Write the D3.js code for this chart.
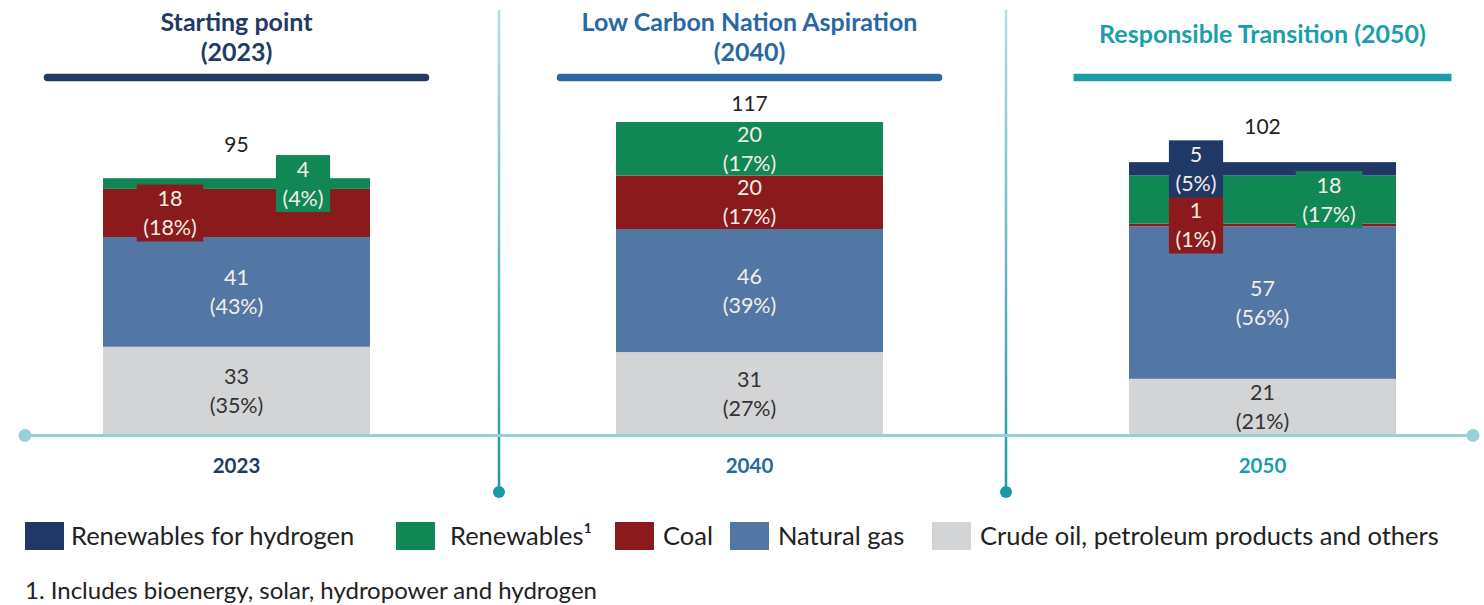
<!DOCTYPE html>
<html>

<head>
    <meta charset="utf-8">
    <title></title>
    <style>
        body {
            margin: 0;
            background: #fff;
        }

        text {
            font-family: Lato, "Open Sans", sans-serif;
        }

        .seg-label {
            font-size: 21.5px;
            text-anchor: middle;
        }

        .total {
            font-size: 21px;
            fill: #222;
            text-anchor: middle;
        }

        .legend text {
            font-size: 25.5px;
            fill: #222;
        }
    </style>
</head>

<body>
    <script src="https://d3js.org/d3.v7.min.js"></script>
    <script>
        // data
        var years = ["2023", "2040", "2050"];
        var titles = [
            ["Starting point", "(2023)"],
            ["Low Carbon Nation Aspiration", "(2040)"],
            ["Responsible Transition (2050)"]
        ];
        var totals = [95, 117, 102];
        // stacked bottom -> top
        var series = ["Crude oil, petroleum products and others", "Natural gas", "Coal", "Renewables\u00b9", "Renewables for hydrogen"];
        var crude = [33, 31, 21];
        var gas = [41, 46, 57];
        var coal = [18, 20, 1];
        var renewables = [4, 20, 18];
        var hydrogen = [0, 0, 5];
        var crudePct = [35, 27, 21];
        var gasPct = [43, 39, 56];
        var coalPct = [18, 17, 1];
        var renewablesPct = [4, 17, 17];
        var hydrogenPct = [0, 0, 5];
        var footnote = "1. Includes bioenergy, solar, hydropower and hydrogen";

        var colors = ["#d3d4d6", "#5277a4", "#8a1a1c", "#118755", "#1f3866"];
        var yearColors = ["#213a66", "#2968a2", "#1b9eac"];

        // label placement for small segments: "L" / "R" = boxed label at left / right of bar
        var boxed = {
            "2023|Coal": "L",
            "2023|Renewables\u00b9": "R",
            "2050|Coal": "L",
            "2050|Renewables\u00b9": "R",
            "2050|Renewables for hydrogen": "L"
        };

        var width = 1484,
            height = 605;

        var svg = d3.select("body").append("svg")
            .attr("width", width)
            .attr("height", height);

        var x = d3.scaleBand()
            .domain(years)
            .range([-20, 1519]);

        var y = d3.scaleLinear()
            .domain([0, 120])
            .range([435, 114]);

        var barW = 267;
        var values = [crude, gas, coal, renewables, hydrogen];
        var pcts = [crudePct, gasPct, coalPct, renewablesPct, hydrogenPct];

        var rows = years.map(function(yr, i) {
            var r = { year: yr };
            series.forEach(function(s, j) { r[s] = values[j][i]; });
            return r;
        });

        var stack = d3.stack().keys(series)(rows);

        // gradient for dividers
        var grad = svg.append("defs").append("linearGradient")
            .attr("id", "divGrad")
            .attr("x1", 0).attr("y1", 0).attr("x2", 0).attr("y2", 1);
        grad.append("stop").attr("offset", "0%").attr("stop-color", "#b4dde4");
        grad.append("stop").attr("offset", "100%").attr("stop-color", "#1a9aa8");

        // vertical dividers
        var divX = [499, 1006];
        divX.forEach(function(dx) {
            svg.append("rect")
                .attr("x", dx - 1.25).attr("y", 10)
                .attr("width", 2.5).attr("height", 482)
                .attr("fill", "url(#divGrad)");
            svg.append("circle")
                .attr("cx", dx).attr("cy", 492).attr("r", 6)
                .attr("fill", "#1a9aa8");
        });

        // titles
        years.forEach(function(yr, i) {
            var cx = x(yr) + x.bandwidth() / 2;
            var lines = titles[i];
            var baselines = lines.length == 2 ? [31, 61] : [43];
            lines.forEach(function(t, k) {
                svg.append("text")
                    .attr("x", cx).attr("y", baselines[k])
                    .attr("text-anchor", "middle")
                    .attr("font-size", 25)
                    .attr("font-weight", "bold")
                    .attr("fill", yearColors[i])
                    .text(t);
            });
            svg.append("line")
                .attr("x1", cx - 189).attr("x2", cx + 189)
                .attr("y1", 77.5).attr("y2", 77.5)
                .attr("stroke", yearColors[i])
                .attr("stroke-width", 7.5)
                .attr("stroke-linecap", i < 2 ? "round" : "butt");

            // x labels
            svg.append("text")
                .attr("x", cx).attr("y", 473)
                .attr("text-anchor", "middle")
                .attr("font-size", 20.5)
                .attr("font-weight", "bold")
                .attr("fill", yearColors[i])
                .text(yr);
        });

        // bars
        var layer = svg.append("g").selectAll("g")
            .data(stack)
            .enter().append("g")
            .attr("fill", function(d, j) { return colors[j]; });

        layer.selectAll("rect")
            .data(function(d) { return d.filter(function(p) { return p[1] > p[0]; }); })
            .enter().append("rect")
            .attr("x", function(d) { return x(d.data.year) + x.bandwidth() / 2 - barW / 2; })
            .attr("y", function(d) { return y(d[1]); })
            .attr("width", barW)
            .attr("height", function(d) { return y(d[0]) - y(d[1]); });

        // baseline axis
        svg.append("line")
            .attr("x1", 25).attr("x2", 1473)
            .attr("y1", 435.5).attr("y2", 435.5)
            .attr("stroke", "#97d0d9")
            .attr("stroke-width", 3);
        [25, 1473].forEach(function(cx) {
            svg.append("circle")
                .attr("cx", cx).attr("cy", 435.5).attr("r", 6.5)
                .attr("fill", "#97d0d9");
        });

        // segment labels
        var labels = svg.append("g");
        stack.forEach(function(s, j) {
            s.forEach(function(p, i) {
                var v = values[j][i];
                if (!(v > 0)) return;
                var yr = years[i];
                var left = x(yr) + x.bandwidth() / 2 - barW / 2;
                var cy = (y(p[0]) + y(p[1])) / 2;
                var pos = boxed[yr + "|" + series[j]];
                var cx = left + barW / 2;
                if (pos) cx = pos == "L" ? left + 67 : left + 200;
                var g = labels.append("g");
                var rect = g.append("rect").attr("fill", colors[j]);
                var t = g.append("text")
                    .attr("class", "seg-label")
                    .attr("fill", j == 0 ? "#333" : "#f4ede6");
                t.append("tspan").attr("x", cx).attr("y", cy - 7).text(v);
                t.append("tspan").attr("x", cx).attr("y", cy + 22).text("(" + pcts[j][i] + "%)");
                if (pos) {
                    var w = t.node().getBBox().width + 13;
                    rect.attr("x", cx - w / 2).attr("y", cy - 28.5)
                        .attr("width", w).attr("height", 57);
                } else {
                    rect.remove();
                }
            });
        });

        // totals
        var totalY = [152, 111, 134];
        years.forEach(function(yr, i) {
            svg.append("text")
                .attr("class", "total")
                .attr("x", x(yr) + x.bandwidth() / 2)
                .attr("y", totalY[i])
                .text(totals[i]);
        });

        // legend
        var legendOrder = [4, 3, 2, 1, 0];
        var legendSX = [25, 396, 615, 730, 932];
        var legendTX = [71, 450, 663, 778, 980];
        var legend = svg.append("g").attr("class", "legend");
        legendOrder.forEach(function(j, k) {
            legend.append("rect")
                .attr("x", legendSX[k]).attr("y", 522)
                .attr("width", 39).attr("height", 28)
                .attr("fill", colors[j]);
            legend.append("text")
                .attr("x", legendTX[k]).attr("y", 545)
                .text(series[j]);
        });

        svg.append("text")
            .attr("x", 25).attr("y", 599)
            .attr("font-size", 24)
            .attr("fill", "#222")
            .text(footnote);
    </script>
</body>

</html>
